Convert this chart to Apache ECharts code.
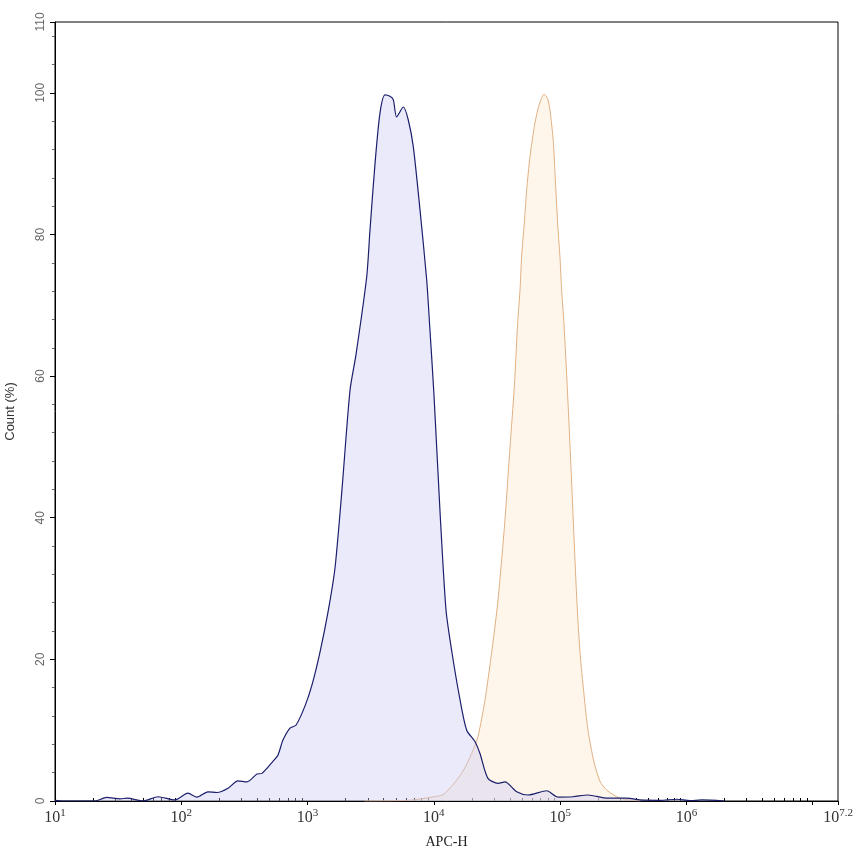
<!DOCTYPE html>
<html>
<head>
<meta charset="utf-8">
<script src="https://cdn.jsdelivr.net/npm/echarts@6/dist/echarts.min.js"></script>
<style>
  html, body { margin: 0; padding: 0; background: #fff; }
  #chart { width: 853px; height: 856px; }
</style>
</head>
<body>
<div id="chart"></div>
<script>
// x values are decade exponents (log10 of APC-H), y values are Count (%)
const blueX = [1.0, 1.063, 1.277, 1.317, 1.409, 1.515, 1.57, 1.697, 1.816, 1.95, 2.053, 2.124, 2.211, 2.283, 2.37, 2.449, 2.52, 2.599, 2.639, 2.726, 2.766, 2.805, 2.861, 2.908, 2.979, 3.035, 3.098, 3.162, 3.217, 3.272, 3.336, 3.383, 3.468, 3.494, 3.534, 3.573, 3.613, 3.652, 3.679, 3.705, 3.758, 3.797, 3.837, 3.89, 3.943, 3.969, 4.001, 4.048, 4.096, 4.143, 4.207, 4.26, 4.325, 4.365, 4.428, 4.508, 4.563, 4.656, 4.745, 4.893, 4.983, 5.101, 5.22, 5.378, 5.529, 5.632, 5.79, 5.925, 6.028, 6.12, 6.3];
const blueY = [0.1, 0, 0, 0, 0.5, 0.3, 0.4, 0, 0.6, 0.15, 1.1, 0.55, 1.3, 1.2, 1.8, 2.85, 2.7, 3.8, 3.9, 5.6, 6.5, 8.6, 10.3, 10.7, 13.4, 16.4, 21, 26.7, 32.9, 43.9, 58, 63, 74, 80.6, 90, 97.1, 99.7, 99.5, 99, 96.6, 98, 96.2, 92.4, 83.5, 73.6, 66.5, 57.3, 41.1, 27, 21, 14.3, 10, 8.4, 6.7, 3.2, 2.5, 2.7, 1.3, 0.85, 1.45, 0.55, 0.6, 0.85, 0.4, 0.4, 0.15, 0.1, 0.25, 0.05, 0.15, 0];

const orangeX = [3.45, 3.803, 3.985, 4.072, 4.151, 4.23, 4.299, 4.349, 4.405, 4.46, 4.508, 4.563, 4.603, 4.637, 4.663, 4.682, 4.695, 4.716, 4.735, 4.761, 4.8, 4.835, 4.874, 4.9, 4.919, 4.945, 4.959, 4.98, 4.998, 5.012, 5.03, 5.056, 5.086, 5.11, 5.133, 5.157, 5.189, 5.22, 5.268, 5.315, 5.371, 5.474, 5.632];
const orangeY = [0, 0.1, 0.55, 0.9, 2.3, 4.2, 6.7, 9.1, 14.3, 21.3, 28.4, 39.7, 50, 58.5, 67.4, 72.1, 76.9, 81.6, 86.3, 91, 95.7, 98.4, 99.8, 99.2, 97.6, 93.3, 88.7, 81.6, 76.9, 72.1, 67.4, 58.5, 47, 37, 28, 21, 15, 10, 5.5, 2.8, 1.5, 0.4, 0];

const xMin = 1, xMax = 7.2;
const yTicks = { min: 0, max: 110, interval: 20 };

// minor log ticks: 2..9 within each decade
const minorTicks = [];
for (let d = 1; d < 8; d++) {
  for (let k = 2; k <= 9; k++) {
    const v = d + Math.log10(k);
    if (v < xMax) minorTicks.push(v);
  }
}

function pairs(xs, ys) {
  return xs.map((x, i) => [x, ys[i]]);
}

const chart = echarts.init(document.getElementById('chart'));
chart.setOption({
  animation: false,
  grid: {
    left: 55, right: 15, top: 22, bottom: 55,
    outerBoundsMode: 'none',
    show: true, borderColor: '#000', borderWidth: 1
  },
  xAxis: [
    {
      type: 'value', min: xMin, max: xMax, interval: 1,
      name: 'APC-H', nameLocation: 'middle', nameGap: 34,
      nameTextStyle: { fontFamily: 'Liberation Serif', fontSize: 14, color: '#222' },
      axisLine: { lineStyle: { color: '#000', width: 1 } },
      axisTick: { length: 4, lineStyle: { color: '#000' } },
      splitLine: { show: false },
      axisLabel: {
        margin: 7,
        fontFamily: 'Liberation Serif', fontSize: 16, color: '#333',
        formatter: function (v) {
          const e = Math.round(v * 10) / 10;
          if (e === 7) return ''; // only the end label 10^7.2 is shown
          return '{b|10}{s|' + e + '}';
        },
        rich: {
          b: { fontFamily: 'Liberation Serif', fontSize: 16, color: '#333' },
          s: { fontFamily: 'Liberation Serif', fontSize: 11, color: '#333', padding: [0, 0, 8, 0] }
        }
      }
    },
    {
      type: 'value', min: xMin, max: xMax, position: 'bottom',
      axisLine: { show: false },
      axisLabel: { show: false },
      splitLine: { show: false },
      axisTick: { show: true, inside: true, length: 3, customValues: minorTicks, lineStyle: { color: '#000' } }
    }
  ],
  yAxis: {
    type: 'value', min: yTicks.min, max: yTicks.max, interval: yTicks.interval,
    name: 'Count (%)', nameLocation: 'middle', nameGap: 38,
    nameTextStyle: { fontFamily: 'Liberation Sans', fontSize: 13, color: '#333' },
    axisLine: { show: true, lineStyle: { color: '#000', width: 1 } },
    axisTick: { show: true, length: 5, lineStyle: { color: '#000' } },
    minorTick: { show: true, splitNumber: 5, length: 3, lineStyle: { color: '#666' } },
    splitLine: { show: false },
    axisLabel: { rotate: 90, margin: 8, fontFamily: 'Liberation Sans', fontSize: 12, color: '#666' }
  },
  series: [
    {
      type: 'line', name: 'orange', xAxisIndex: 0,
      data: pairs(orangeX, orangeY),
      smooth: 0.25, showSymbol: false, symbol: 'none',
      lineStyle: { color: '#e0b083', width: 1 },
      areaStyle: { color: 'rgba(252,236,215,0.7)' },
      z: 2
    },
    {
      type: 'line', name: 'blue', xAxisIndex: 0,
      data: pairs(blueX, blueY),
      smooth: 0.25, showSymbol: false, symbol: 'none',
      lineStyle: { color: '#1b1f6b', width: 1.2 },
      areaStyle: { color: 'rgba(200,200,245,0.55)' },
      z: 3
    }
  ]
});
</script>
</body>
</html>
